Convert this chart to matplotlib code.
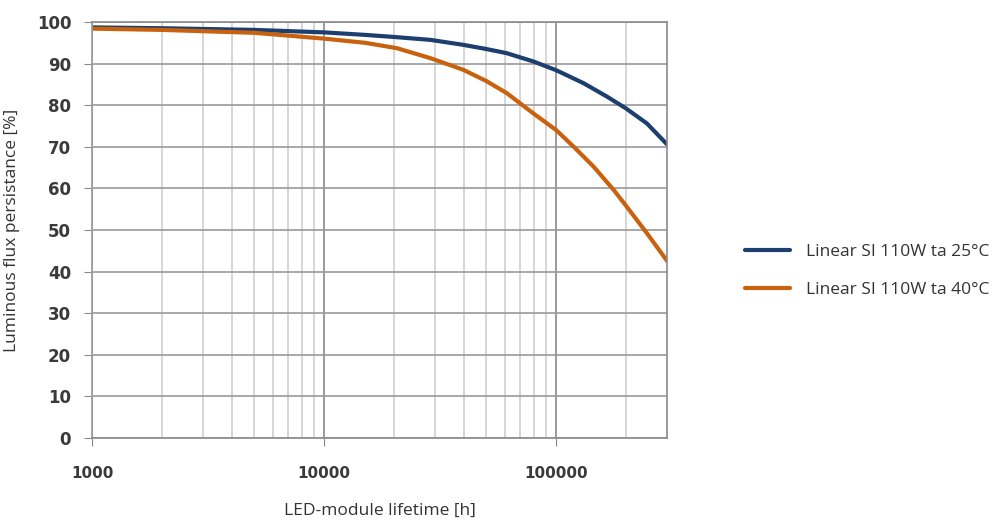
#!/usr/bin/env python3
# plot.py - LED module luminous flux persistence vs lifetime
import matplotlib
matplotlib.use("Agg")
import matplotlib.pyplot as plt
from matplotlib.ticker import FixedLocator, NullFormatter

# lifetime [h] and flux persistence [%]
hours_25 = [1000, 2000, 5000, 10000, 15000, 20000, 28700, 39800, 50000, 61200,
            79800, 100000, 131000, 165000, 200000, 246000, 300000]
flux_25 = [98.7, 98.5, 98.1, 97.5, 96.9, 96.4, 95.7, 94.5, 93.5, 92.5,
           90.5, 88.4, 85.3, 82.1, 79.2, 75.6, 70.6]

hours_40 = [1000, 2000, 5000, 10000, 15000, 20600, 28700, 39800, 50000, 61200,
            79800, 100000, 119000, 145000, 177000, 200000, 246000, 300000]
flux_40 = [98.4, 98.1, 97.4, 96.0, 95.0, 93.7, 91.3, 88.5, 85.8, 82.9,
           78.0, 74.0, 70.0, 65.2, 59.6, 55.8, 49.2, 42.6]

series = [
    ("Linear SI 110W ta 25°C", hours_25, flux_25, "#1c3f70"),
    ("Linear SI 110W ta 40°C", hours_40, flux_40, "#c8620f"),
]

x_major = [1000, 10000, 100000]
x_minor = [m * d for d in (1000, 10000, 100000) for m in range(2, 10) if m * d < 300000]
y_ticks = list(range(0, 101, 10))

fig = plt.figure(figsize=(10.06, 5.21), dpi=100)
ax = fig.add_axes([0.0915, 0.1593, 0.5715, 0.7985])

for label, x, y, col in series:
    ax.plot(x, y, color=col, lw=3, label=label, solid_capstyle="round",
            solid_joinstyle="round")

ax.set_xscale("log")
ax.set_xlim(1000, 300000)
ax.set_ylim(0, 100)
ax.xaxis.set_major_locator(FixedLocator(x_major))
ax.xaxis.set_minor_locator(FixedLocator(x_minor))
ax.xaxis.set_minor_formatter(NullFormatter())
ax.set_xticklabels([str(v) for v in x_major])
ax.set_yticks(y_ticks)

ax.grid(True, which="major", axis="y", color="#9a9a9a", lw=1.2)
ax.grid(True, which="major", axis="x", color="#8a8a8a", lw=1.2)
ax.grid(True, which="minor", axis="x", color="#cfcfcf", lw=1.2)
ax.set_axisbelow(True)

for s in ax.spines.values():
    s.set_color("#8a8a8a")
    s.set_linewidth(1.2)
ax.spines["left"].set_color("#9a9a9a")

ax.tick_params(axis="both", which="major", direction="out", length=6,
               color="#8a8a8a", labelcolor="#3a3a3a")
ax.tick_params(axis="y", labelsize=12, pad=9)
ax.tick_params(axis="x", labelsize=11, pad=14)
ax.tick_params(axis="x", which="minor", length=0)
for t in ax.get_xticklabels() + ax.get_yticklabels():
    t.set_fontfamily("DejaVu Sans")
    t.set_fontweight("bold")

ax.set_xlabel("LED-module lifetime [h]", fontsize=12.5, color="#333333",
              family="Open Sans", labelpad=16)
ax.set_ylabel("Luminous flux persistance [%]", fontsize=12.5, color="#333333",
              family="Open Sans", labelpad=12)

fig.legend(loc="center left", bbox_to_anchor=(0.725, 0.48), frameon=False,
           prop={"family": "Open Sans", "size": 12.5}, labelcolor="#333333",
           handlelength=2.6, labelspacing=1.3, handletextpad=0.9)

fig.savefig("out.png", dpi=100)
